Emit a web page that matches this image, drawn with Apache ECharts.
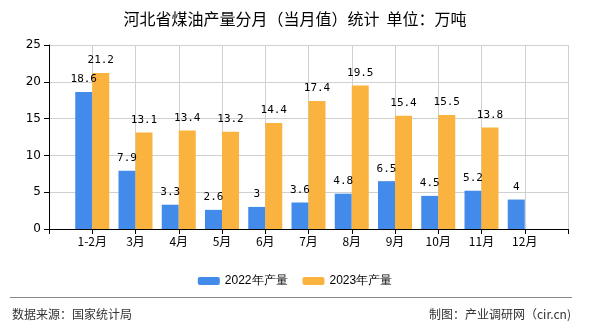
<!DOCTYPE html>
<html><head><meta charset="utf-8">
<script src="https://cdn.jsdelivr.net/npm/echarts@6/dist/echarts.min.js"></script>
<style>html,body{margin:0;padding:0;background:#fff}#c{width:590px;height:330px}</style>
</head><body><div id="c"></div>
<script>
const categories = ['', '1-2月', '3月', '4月', '5月', '6月', '7月', '8月', '9月', '10月', '11月', '12月', ''];
const values2022 = ['-', 18.6, 7.9, 3.3, 2.6, 3, 3.6, 4.8, 6.5, 4.5, 5.2, 4, '-'];
const values2023 = ['-', 21.2, 13.1, 13.4, 13.2, 14.4, 17.4, 19.5, 15.4, 15.5, 13.8, '-', '-'];
const yTicks = [0, 5, 10, 15, 20, 25];
const seriesNames = ['2022年产量', '2023年产量'];

const chart = echarts.init(document.getElementById('c'), null, {renderer: 'canvas'});
const cjk = '"Noto Sans CJK SC", sans-serif';
const lbl = {show: true, position: 'top', color: '#000', fontSize: 11, fontFamily: '"DejaVu Sans Mono", monospace', distance: 7};
chart.setOption({
  animation: false,
  title: {text: '河北省煤油产量分月（当月值）统计  单位：万吨', left: 'center', top: 6,
    textStyle: {fontSize: 16, fontWeight: 'normal', color: '#000', fontFamily: cjk}},
  legend: {top: 270, left: 'center', itemWidth: 22, itemHeight: 8, itemGap: 15,
    textStyle: {fontSize: 12, color: '#000', fontFamily: '"Liberation Sans", Arial, sans-serif'}, data: seriesNames},
  grid: {left: 49, right: 22, top: 45, bottom: 101, containLabel: false},
  xAxis: {type: 'category', data: categories, boundaryGap: false,
    axisLine: {lineStyle: {color: '#000'}}, axisTick: {show: true, lineStyle: {color: '#000'}},
    axisLabel: {color: '#000', fontSize: 12, fontFamily: cjk, interval: 0, margin: 6},
    splitLine: {show: true, lineStyle: {color: '#d0d0d0'}}},
  yAxis: {type: 'value', min: yTicks[0], max: yTicks[yTicks.length - 1], interval: 5,
    axisLine: {show: true, lineStyle: {color: '#000'}}, axisTick: {show: true, lineStyle: {color: '#000'}},
    axisLabel: {color: '#000', fontSize: 12, fontFamily: '"DejaVu Sans", sans-serif', margin: 8},
    splitLine: {show: true, lineStyle: {color: '#d0d0d0'}}},
  series: [
    {name: seriesNames[0], type: 'bar', data: values2022, barWidth: 17, barGap: 0,
      itemStyle: {color: '#428BEA'}, label: lbl},
    {name: seriesNames[1], type: 'bar', data: values2023, barWidth: 17, barGap: 0,
      itemStyle: {color: '#FBB33F'}, label: lbl}
  ],
  graphic: [
    {type: 'line', shape: {x1: 10, y1: 297.5, x2: 572, y2: 297.5}, style: {stroke: '#888', lineWidth: 1}},
    {type: 'text', left: 12, top: 308, style: {text: '数据来源：国家统计局', fill: '#333', font: '12px ' + cjk}},
    {type: 'text', right: 19, top: 308, style: {text: '制图：产业调研网（cir.cn)', fill: '#333', font: '12px ' + cjk}}
  ]
});
</script></body></html>
